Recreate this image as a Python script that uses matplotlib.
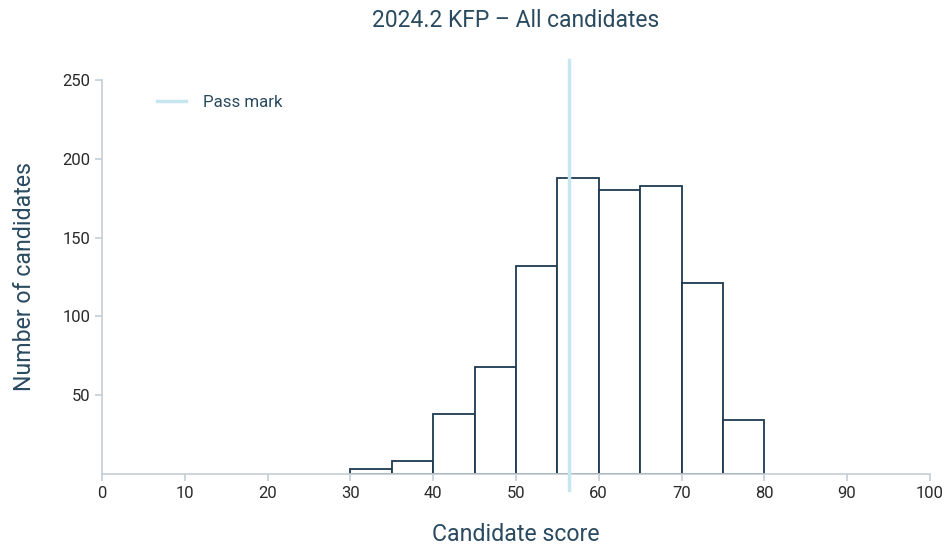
import matplotlib.pyplot as plt
import matplotlib.transforms as mtransforms

plt.rcParams['font.family'] = ['Roboto', 'DejaVu Sans']

bin_left = [30, 35, 40, 45, 50, 55, 60, 65, 70, 75]
counts = [3, 8, 38, 68, 132, 188, 180, 183, 121, 34]
bin_width = 5
pass_mark = 56.4

x_ticks = [0, 10, 20, 30, 40, 50, 60, 70, 80, 90, 100]
y_ticks = [50, 100, 150, 200, 250]

navy = '#1c3a50'
label_col = '#2a4a60'
spine_col = '#c3ced6'
pass_col = '#c8e6f0'

fig = plt.figure(figsize=(9.46, 5.46), dpi=100)
ax = fig.add_axes([0.1078, 0.1319, 0.8752, 0.7216])

ax.bar(bin_left, counts, width=bin_width, align='edge', facecolor='white',
       edgecolor=navy, linewidth=1.3, zorder=2)

trans = mtransforms.blended_transform_factory(ax.transData, ax.transAxes)
ax.plot([pass_mark, pass_mark], [-0.04, 1.05], color=pass_col, lw=2.5,
        transform=trans, clip_on=False, zorder=3, label='Pass mark')

ax.set_xlim(0, 100)
ax.set_ylim(0, 250)
ax.set_xticks(x_ticks)
ax.set_yticks(y_ticks)

for s in ['top', 'right']:
    ax.spines[s].set_visible(False)
for s in ['left', 'bottom']:
    ax.spines[s].set_color(spine_col)
    ax.spines[s].set_linewidth(1.2)
ax.tick_params(colors=spine_col, labelcolor='#2a2a2a', labelsize=12,
               length=5, width=1.2, direction='out')

ax.set_title('2024.2 KFP \u2013 All candidates', fontsize=16.5, color=label_col,
             pad=38)
ax.set_xlabel('Candidate score', fontsize=16.7, color=label_col, labelpad=16)
ax.set_ylabel('Number of candidates', fontsize=16.7, color=label_col,
              labelpad=19)

leg = ax.legend(loc='upper left', bbox_to_anchor=(0.048, 1.0), frameon=False,
                fontsize=12.2, handlelength=1.7, handletextpad=1.0)
for t in leg.get_texts():
    t.set_color(label_col)

fig.savefig('out.png', dpi=100, facecolor='white')
